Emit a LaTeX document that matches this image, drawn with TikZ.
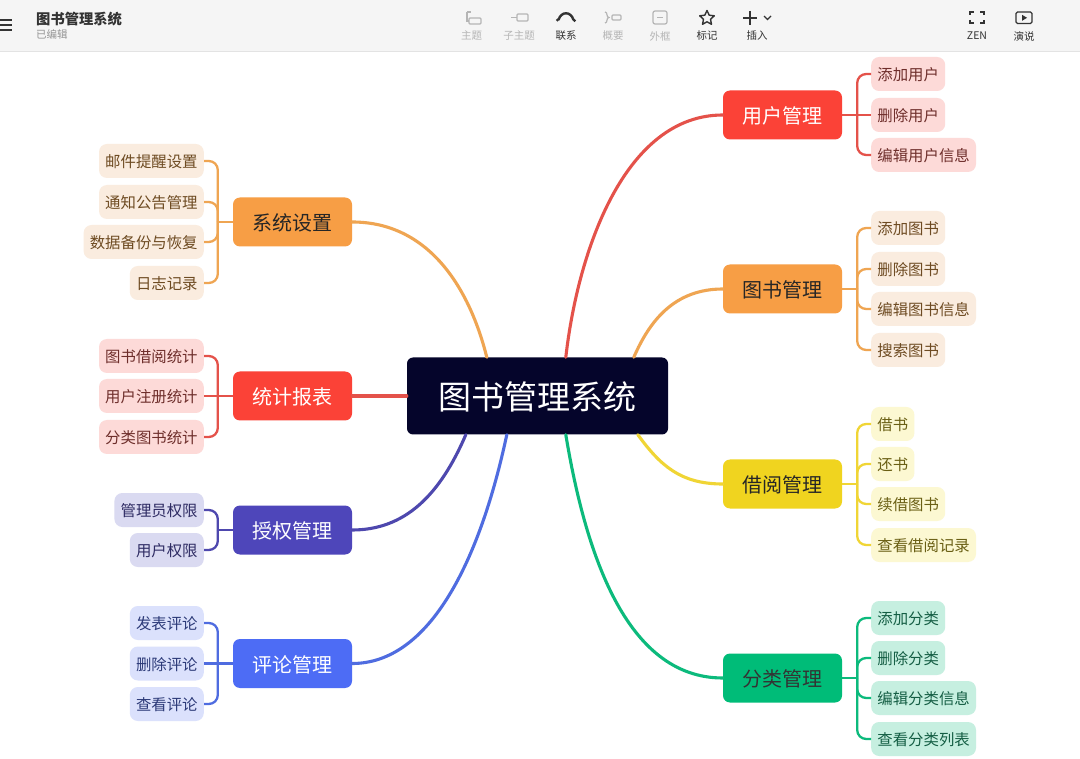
\documentclass[tikz,border=0pt]{standalone}
\usepackage{fontspec}
\setmainfont{Noto Sans CJK SC}
\usetikzlibrary{calc}
\definecolor{cred}{HTML}{FB4237}\definecolor{lred}{HTML}{FDDAD8}\definecolor{tred}{HTML}{6E2E2B}\definecolor{ered}{HTML}{E4524A}
\definecolor{cora}{HTML}{F79E45}\definecolor{lora}{HTML}{FAECDF}\definecolor{tora}{HTML}{6E4B22}\definecolor{eora}{HTML}{EFA552}
\definecolor{cyel}{HTML}{F0D41F}\definecolor{lyel}{HTML}{FCF8D2}\definecolor{tyel}{HTML}{6A5F14}\definecolor{eyel}{HTML}{F0D535}
\definecolor{cgrn}{HTML}{00BC78}\definecolor{lgrn}{HTML}{C6EFE0}\definecolor{tgrn}{HTML}{145E44}\definecolor{egrn}{HTML}{0CBA7C}
\definecolor{cind}{HTML}{4E46BA}\definecolor{lind}{HTML}{DADAF1}\definecolor{tind}{HTML}{2E2B63}\definecolor{eind}{HTML}{4E48AE}
\definecolor{cblu}{HTML}{4D6CF5}\definecolor{lblu}{HTML}{DBE1FC}\definecolor{tblu}{HTML}{2C3A78}\definecolor{eblu}{HTML}{4F6CE0}
\definecolor{navy}{HTML}{05052B}\definecolor{bar}{HTML}{F5F5F5}\definecolor{barline}{HTML}{E3E3E3}
\definecolor{ink}{HTML}{333333}\definecolor{dim}{HTML}{B5B5B5}
\tikzset{
 x=1pt,y=-1pt,
 central/.style={fill=navy,rounded corners=6pt,minimum width=261pt,minimum height=77pt,inner sep=0pt,text=white,text height=32pt,text depth=5pt,font=\fontsize{33}{38}\selectfont},
 mainbox/.style={fill=#1,rounded corners=7pt,minimum width=119pt,minimum height=49pt,inner sep=0pt,text height=20pt,text depth=2.8pt,font=\fontsize{20}{24}\selectfont},
 leafbox/.style={fill=#1,rounded corners=8pt,minimum height=34pt,inner xsep=6.2pt,inner ysep=0pt,text height=16pt,text depth=2.3pt,font=\fontsize{15.4}{18}\selectfont},
 trunk/.style={line width=3.1pt,draw=#1,line cap=round},
 twig/.style={line width=2.3pt,draw=#1,rounded corners=9pt},
 stem/.style={line width=2.3pt,draw=#1},
 toollabel/.style={inner sep=0pt,font=\fontsize{10.5}{12}\selectfont,text=#1},
 icon/.style={draw=#1,line width=1.2pt}
}
\newcommand{\LeafR}[5]{\node[leafbox=#4,anchor=west,text=#5] (#1) at (871,#2) {#3};}
\newcommand{\LeafL}[5]{\node[leafbox=#4,anchor=east,text=#5] (#1) at (204,#2) {#3};}
\newcommand{\TwigR}[3]{\draw[twig=#3] ($(#1.east)+(15,0)$) |- (#2.west);}
\newcommand{\TwigL}[3]{\draw[twig=#3] ($(#1.west)+(-15,0)$) |- (#2.east);}
\newcommand{\StemR}[3]{\draw[stem=#3] (#1.east) -- #2;}
\newcommand{\StemL}[3]{\draw[stem=#3] (#1.west) -- #2;}
\begin{document}
\begin{tikzpicture}
\useasboundingbox (0,0) rectangle (1080,759);
\fill[white] (0,0) rectangle (1080,759);
% toolbar
\fill[bar] (0,0) rectangle (1080,51);
\draw[barline,line width=1pt] (0,51.5) -- (1080,51.5);
\draw[ink,line width=1.3pt] (0,20) -- (12,20) (0,25) -- (12,25) (0,30) -- (12,30);
\node[anchor=west,inner sep=0pt,text=ink,font=\fontsize{14.3}{17}\selectfont\bfseries] (title) at (36,19.5) {图书管理系统};
\node[anchor=west,toollabel=gray!85] (edited) at (36,34.5) {已编辑};
\node[toollabel=dim] (t1) at (471.5,36) {主题};
\node[toollabel=dim] (t2) at (519,36) {子主题};
\node[toollabel=ink] (t3) at (566,36) {联系};
\node[toollabel=dim] (t4) at (613,36) {概要};
\node[toollabel=dim] (t5) at (660,36) {外框};
\node[toollabel=ink] (t6) at (707,36) {标记};
\node[toollabel=ink] (t7) at (757,36) {插入};
\node[toollabel=ink] (t8) at (977,36) {ZEN};
\node[toollabel=ink] (t9) at (1024,36) {演说};
% toolbar icons
\draw[icon=dim,rounded corners=1pt] (469,18) rectangle (481,24);
\draw[icon=dim] (467,12) -- (467,21) -- (469,21) (467,12) -- (471,12);
\draw[icon=dim,rounded corners=1pt] (517,14) rectangle (528,21);
\draw[icon=dim] (511,17.5) -- (517,17.5);
\draw[ink,line width=2.4pt] (558.5,20) .. controls (561,11) and (571,11) .. (573.5,20);
\fill[ink] (557.5,20) circle (1.6pt) (574.5,20.5) circle (1.6pt);
\draw[icon=dim] (605,12) .. controls (608,12) and (606,17.5) .. (609,17.5) .. controls (606,17.5) and (608,23) .. (605,23);
\draw[icon=dim,rounded corners=1pt] (612,15) rectangle (621,20);
\draw[icon=dim,rounded corners=2pt] (653,11) rectangle (667,24);
\draw[icon=dim] (657,17.5) -- (663,17.5);
\draw[ink,line width=1.4pt,line join=round] (707,10.5) -- (709.2,15.2) -- (714.3,15.8) -- (710.5,19.3) -- (711.5,24.3) -- (707,21.8) -- (702.5,24.3) -- (703.5,19.3) -- (699.7,15.8) -- (704.8,15.2) -- cycle;
\draw[ink,line width=1.5pt] (743,18) -- (757,18) (750,11) -- (750,25);
\draw[ink,line width=1.3pt] (764,16) -- (767.5,19.5) -- (771,16);
\draw[ink,line width=1.3pt] (970,15) -- (970,12) -- (974,12) (980,12) -- (984,12) -- (984,15) (970,20) -- (970,23) -- (974,23) (980,23) -- (984,23) -- (984,20);
\draw[ink,line width=1.3pt,rounded corners=1.5pt] (1016,12) rectangle (1032,23.5);
\fill[ink] (1022,14.8) -- (1022,20.8) -- (1027,17.8) -- cycle;
% central and main topics
\node[central] (c) at (537.5,396) {图书管理系统};
\node[mainbox=cred,text=white] (m1) at (782.5,115) {用户管理};
\node[mainbox=cora,text=black!85] (m2) at (782.5,289) {图书管理};
\node[mainbox=cyel,text=black!85] (m3) at (782.5,484) {借阅管理};
\node[mainbox=cgrn,text=black!80] (m4) at (782.5,678) {分类管理};
\node[mainbox=cora,text=black!85] (m5) at (292.5,222) {系统设置};
\node[mainbox=cred,text=white] (m6) at (292.5,396) {统计报表};
\node[mainbox=cind,text=white] (m7) at (292.5,530) {授权管理};
\node[mainbox=cblu,text=white] (m8) at (292.5,663.5) {评论管理};
% anchors on the central box
\coordinate (a1) at ($(c.north west)+(159,0)$);
\coordinate (a2) at ($(c.north west)+(227,0)$);
\coordinate (a3) at ($(c.south west)+(231,0)$);
\coordinate (a4) at ($(c.south west)+(159,0)$);
\coordinate (a5) at ($(c.north west)+(80,0)$);
\coordinate (a7) at ($(c.south west)+(59,0)$);
\coordinate (a8) at ($(c.south west)+(100,0)$);
% trunks
\draw[trunk=ered] (a1) .. controls (578,250) and (625,115) .. (m1.west);
\draw[trunk=eora] (a2) .. controls (650,320) and (675,289) .. (m2.west);
\draw[trunk=eyel] (a3) .. controls (660,465) and (680,484) .. (m3.west);
\draw[trunk=egrn] (a4) .. controls (585,550) and (625,678) .. (m4.west);
\draw[trunk=eora] (a5) .. controls (470,290) and (430,222) .. (m5.east);
\draw[trunk=ered] (c.west) -- (m6.east);
\draw[trunk=eind] (a7) .. controls (440,495) and (405,530) .. (m7.east);
\draw[trunk=eblu] (a8) .. controls (480,560) and (430,663.5) .. (m8.east);
% right leaves
\LeafR{r11}{74}{添加用户}{lred}{tred}
\LeafR{r12}{115}{删除用户}{lred}{tred}
\LeafR{r13}{155}{编辑用户信息}{lred}{tred}
\LeafR{r21}{228}{添加图书}{lora}{tora}
\LeafR{r22}{269}{删除图书}{lora}{tora}
\LeafR{r23}{309}{编辑图书信息}{lora}{tora}
\LeafR{r24}{350}{搜索图书}{lora}{tora}
\LeafR{r31}{424}{借书}{lyel}{tyel}
\LeafR{r32}{464}{还书}{lyel}{tyel}
\LeafR{r33}{504}{续借图书}{lyel}{tyel}
\LeafR{r34}{545}{查看借阅记录}{lyel}{tyel}
\LeafR{r41}{618}{添加分类}{lgrn}{tgrn}
\LeafR{r42}{658}{删除分类}{lgrn}{tgrn}
\LeafR{r43}{698}{编辑分类信息}{lgrn}{tgrn}
\LeafR{r44}{739}{查看分类列表}{lgrn}{tgrn}
% left leaves
\LeafL{l11}{161}{邮件提醒设置}{lora}{tora}
\LeafL{l12}{202}{通知公告管理}{lora}{tora}
\LeafL{l13}{242}{数据备份与恢复}{lora}{tora}
\LeafL{l14}{283}{日志记录}{lora}{tora}
\LeafL{l21}{356}{图书借阅统计}{lred}{tred}
\LeafL{l22}{396}{用户注册统计}{lred}{tred}
\LeafL{l23}{437}{分类图书统计}{lred}{tred}
\LeafL{l31}{510}{管理员权限}{lind}{tind}
\LeafL{l32}{550}{用户权限}{lind}{tind}
\LeafL{l41}{623}{发表评论}{lblu}{tblu}
\LeafL{l42}{663.5}{删除评论}{lblu}{tblu}
\LeafL{l43}{704}{查看评论}{lblu}{tblu}
% stems
\StemR{m1}{(r12.west)}{ered}
\StemR{m2}{($(m2.east)+(15,0)$)}{eora}
\StemR{m3}{($(m3.east)+(15,0)$)}{eyel}
\StemR{m4}{($(m4.east)+(15,0)$)}{egrn}
\StemL{m5}{($(m5.west)+(-15,0)$)}{eora}
\StemL{m6}{(l22.east)}{ered}
\StemL{m7}{($(m7.west)+(-15,0)$)}{eind}
\StemL{m8}{(l42.east)}{eblu}
% twigs
\TwigR{m1}{r11}{ered}\TwigR{m1}{r13}{ered}
\TwigR{m2}{r21}{eora}\TwigR{m2}{r22}{eora}\TwigR{m2}{r23}{eora}\TwigR{m2}{r24}{eora}
\TwigR{m3}{r31}{eyel}\TwigR{m3}{r32}{eyel}\TwigR{m3}{r33}{eyel}\TwigR{m3}{r34}{eyel}
\TwigR{m4}{r41}{egrn}\TwigR{m4}{r42}{egrn}\TwigR{m4}{r43}{egrn}\TwigR{m4}{r44}{egrn}
\TwigL{m5}{l11}{eora}\TwigL{m5}{l12}{eora}\TwigL{m5}{l13}{eora}\TwigL{m5}{l14}{eora}
\TwigL{m6}{l21}{ered}\TwigL{m6}{l23}{ered}
\TwigL{m7}{l31}{eind}\TwigL{m7}{l32}{eind}
\TwigL{m8}{l41}{eblu}\TwigL{m8}{l43}{eblu}
\end{tikzpicture}
\end{document}
